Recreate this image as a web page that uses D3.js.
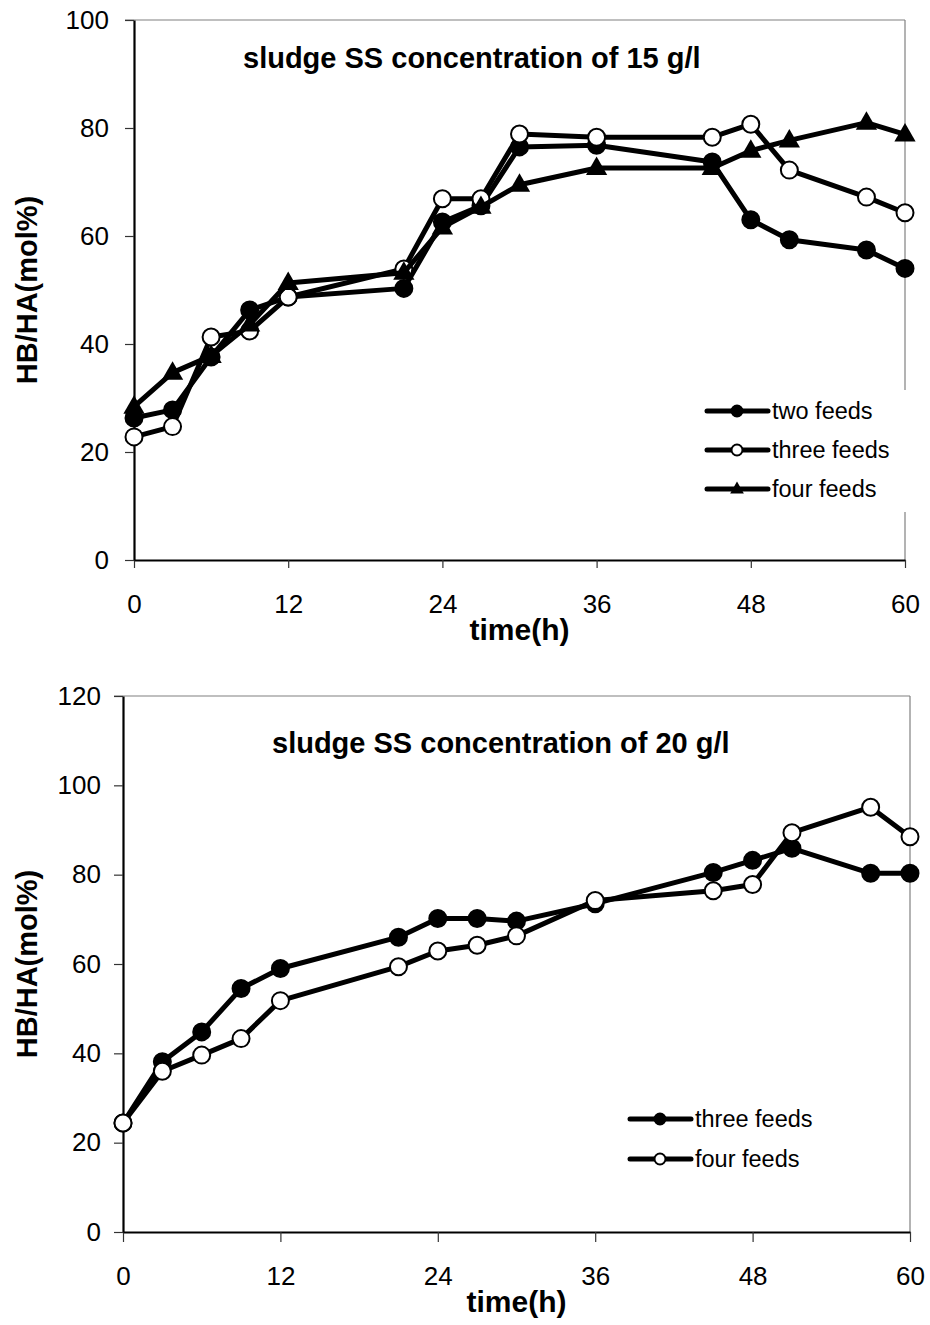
<!DOCTYPE html>
<html>
<head>
<meta charset="utf-8">
<script src="https://cdn.jsdelivr.net/npm/d3@7"></script>
<style>
  body { margin: 0; background: #fff; }
  svg text { font-family: Arial, "Liberation Sans", sans-serif; fill: #000; }
</style>
</head>
<body>
<div id="vis"><svg></svg></div>
<script>
// sampling times (h), shared by every series
const hours = [0, 3, 6, 9, 12, 21, 24, 27, 30, 36, 45, 48, 51, 57, 60];

// sludge SS 15 g/l
const ss15TwoFeeds   = [26.3, 27.8, 37.6, 46.3, 48.7, 50.3, 62.6, 65.6, 76.5, 76.8, 73.7, 63.0, 59.3, 57.4, 54.0];
const ss15ThreeFeeds = [22.8, 24.7, 41.3, 42.4, 48.7, 53.9, 66.9, 66.9, 78.9, 78.3, 78.3, 80.7, 72.2, 67.2, 64.3];
const ss15FourFeeds  = [28.4, 34.7, 37.8, 43.6, 51.3, 53.2, 61.6, 65.4, 69.5, 72.6, 72.6, 75.8, 77.7, 81.0, 78.8];

// sludge SS 20 g/l
const ss20ThreeFeeds = [24.4, 38.1, 44.8, 54.5, 59.0, 66.0, 70.2, 70.2, 69.6, 73.5, 80.5, 83.2, 85.9, 80.3, 80.3];
const ss20FourFeeds  = [24.4, 36.0, 39.6, 43.3, 51.8, 59.4, 62.9, 64.2, 66.3, 74.2, 76.4, 77.8, 89.4, 95.1, 88.5];

const xTicks = [0, 12, 24, 36, 48, 60];
const yTicks15 = [0, 20, 40, 60, 80, 100];
const yTicks20 = [0, 20, 40, 60, 80, 100, 120];

const svg = d3.select("#vis").select("svg")
  .attr("width", 930)
  .attr("height", 1325);

function triangle(g, size) {
  // upward triangle centred on 0,0
  const h = size * 0.87;
  return `M0,${-h * 0.62}L${size / 2},${h * 0.38}L${-size / 2},${h * 0.38}Z`;
}

function drawMarker(sel, kind, r) {
  if (kind === "tri") {
    sel.append("path").attr("d", triangle(null, r * 2.5)).attr("fill", "#000");
  } else {
    sel.append("circle").attr("r", r)
      .attr("fill", kind === "open" ? "#fff" : "#000")
      .attr("stroke", "#000").attr("stroke-width", 2);
  }
}

function panel(opt) {
  const x = d3.scaleLinear().domain([0, 60]).range([opt.left, opt.right]);
  const y = d3.scaleLinear().domain([0, opt.yMax]).range([opt.bottom, opt.top]);
  const g = svg.append("g");

  // gray frame on top and right
  g.append("line").attr("x1", opt.left - 9).attr("x2", opt.right)
    .attr("y1", opt.top).attr("y2", opt.top)
    .attr("stroke", "#808080").attr("stroke-width", 1.2);
  g.append("line").attr("x1", opt.right).attr("x2", opt.right)
    .attr("y1", opt.top).attr("y2", opt.bottom)
    .attr("stroke", "#808080").attr("stroke-width", 1.2);

  // axes
  const xAxisG = g.append("g")
    .attr("transform", `translate(0,${opt.bottom})`)
    .call(d3.axisBottom(x).tickValues(xTicks).tickSize(opt.xTickSize).tickSizeOuter(0).tickPadding(opt.xPad));
  const yAxisG = g.append("g")
    .attr("transform", `translate(${opt.left},0)`)
    .call(d3.axisLeft(y).tickValues(opt.yTicks).tickSize(9).tickSizeOuter(0).tickPadding(opt.yPad));
  [xAxisG, yAxisG].forEach(a => {
    a.select(".domain").attr("stroke", "#000").attr("stroke-width", 2.2);
    a.selectAll(".tick line").attr("stroke", "#333").attr("stroke-width", 1.2);
    a.selectAll(".tick text").attr("font-size", 26).attr("font-family", "Arial, 'Liberation Sans', sans-serif").attr("fill", "#000");
  });

  // title
  g.append("text").attr("x", opt.titleX).attr("y", opt.titleY)
    .attr("font-size", 29).attr("font-weight", "bold")
    .text(opt.title);

  // axis labels
  g.append("text")
    .attr("transform", `translate(37,${(opt.top + opt.bottom) / 2}) rotate(-90)`)
    .attr("text-anchor", "middle").attr("font-size", 29).attr("font-weight", "bold")
    .text("HB/HA(mol%)");
  g.append("text")
    .attr("x", (opt.left + opt.right) / 2).attr("y", opt.bottom + 80)
    .attr("text-anchor", "middle").attr("font-size", 30).attr("font-weight", "bold")
    .text("time(h)");

  // legend background (covers the right frame like the original)
  if (opt.legendBg) {
    g.append("rect").attr("x", opt.legendX - 5).attr("y", opt.legendBg[0])
      .attr("width", opt.right + 8 - opt.legendX).attr("height", opt.legendBg[1] - opt.legendBg[0])
      .attr("fill", "#fff");
  }

  // series
  const line = d3.line().x(d => x(d[0])).y(d => y(d[1]));
  opt.series.forEach((s, i) => {
    const pts = hours.map((h, j) => [h, s.values[j]]);
    const sg = g.append("g");
    sg.append("path").datum(pts).attr("d", line)
      .attr("fill", "none").attr("stroke", "#000").attr("stroke-width", 5)
      .attr("stroke-linejoin", "round");
    sg.selectAll("g.pt").data(pts).join("g").attr("class", "pt")
      .attr("transform", d => `translate(${x(d[0])},${y(d[1])})`)
      .each(function () { drawMarker(d3.select(this), s.kind, 8.5); });

    // legend row
    const ly = opt.legendY[i];
    const lg = g.append("g");
    lg.append("line").attr("x1", opt.legendX).attr("x2", opt.legendX + 61)
      .attr("y1", ly).attr("y2", ly)
      .attr("stroke", "#000").attr("stroke-width", 5).attr("stroke-linecap", "round");
    const m = lg.append("g").attr("transform", `translate(${opt.legendX + 30},${ly})`);
    drawMarker(m, s.kind, 5.5);
    lg.append("text").attr("x", opt.legendX + 65).attr("y", ly).attr("dy", "0.36em")
      .attr("font-size", 23.5).text(s.name);
  });
}

panel({
  left: 134, right: 905, top: 20, bottom: 560, yMax: 100, yTicks: yTicks15,
  xTickSize: 8, xPad: 27, yPad: 16,
  title: "sludge SS concentration of 15 g/l", titleX: 243, titleY: 68,
  legendX: 707, legendY: [411, 450, 489], legendBg: [390, 512],
  series: [
    { name: "two feeds", values: ss15TwoFeeds, kind: "filled" },
    { name: "three feeds", values: ss15ThreeFeeds, kind: "open" },
    { name: "four feeds", values: ss15FourFeeds, kind: "tri" }
  ]
});

panel({
  left: 123, right: 910, top: 696, bottom: 1232, yMax: 120, yTicks: yTicks20,
  xTickSize: 10, xPad: 25, yPad: 13,
  title: "sludge SS concentration of 20 g/l", titleX: 272, titleY: 753,
  legendX: 630, legendY: [1119, 1159], legendBg: null,
  series: [
    { name: "three feeds", values: ss20ThreeFeeds, kind: "filled" },
    { name: "four feeds", values: ss20FourFeeds, kind: "open" }
  ]
});
</script>
</body>
</html>
